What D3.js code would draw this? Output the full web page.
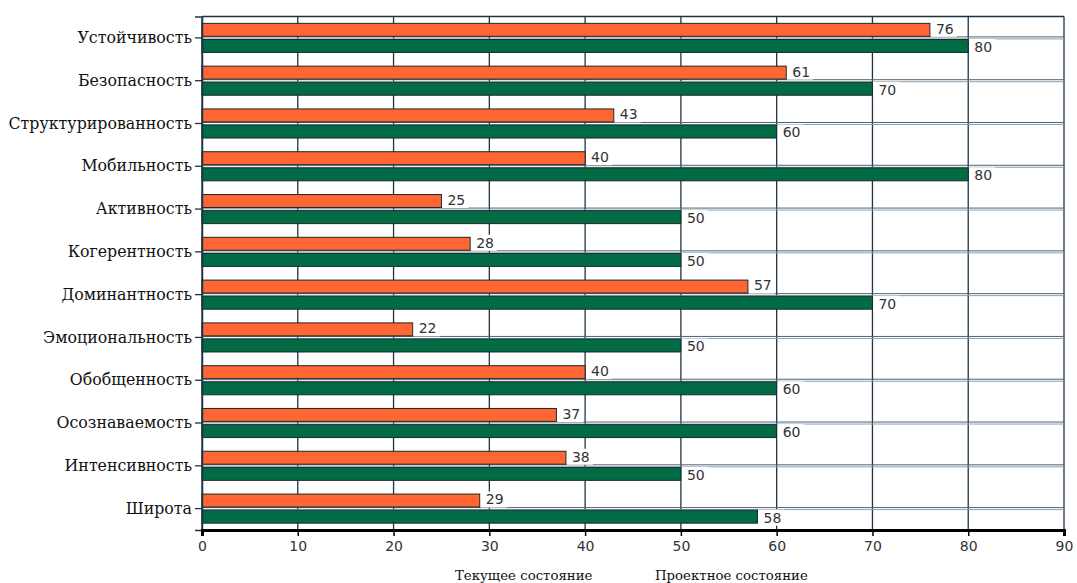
<!DOCTYPE html>
<html>
<head>
<meta charset="utf-8">
<script src="https://cdn.jsdelivr.net/npm/d3@7"></script>
<style>
  body { margin: 0; background: #fff; }
</style>
</head>
<body>
<svg id="vis" width="1077" height="583"></svg>
<script>
// categories, top to bottom
const categories = ["Устойчивость", "Безопасность", "Структурированность", "Мобильность",
  "Активность", "Когерентность", "Доминантность", "Эмоциональность", "Обобщенность",
  "Осознаваемость", "Интенсивность", "Широта"]
const current = [76, 61, 43, 40, 25, 28, 57, 22, 40, 37, 38, 29]
const project = [80, 70, 60, 80, 50, 50, 70, 50, 60, 60, 50, 58]
const seriesNames = ["Текущее состояние", "Проектное состояние"]
const xTicks = [0, 10, 20, 30, 40, 50, 60, 70, 80, 90]

const colors = ["#ff6633", "#006b45"]
const margin = {top: 16.5, right: 13, bottom: 53, left: 202}
const width = 1077 - margin.left - margin.right
const height = 583 - margin.top - margin.bottom

const svg = d3.select("#vis")
const chart = svg.append("g").attr("transform", `translate(${margin.left},${margin.top})`)

const x = d3.scaleLinear().domain([0, 90]).range([0, width])
const y = d3.scaleBand().domain(categories).range([0, height]).paddingInner(0.32).paddingOuter(0.16)
const yInner = d3.scaleBand().domain([0, 1]).range([0, y.bandwidth()]).paddingInner(0.2)

// vertical gridlines
chart.append("g").selectAll("line").data(xTicks).join("line")
  .attr("x1", d => x(d)).attr("x2", d => x(d))
  .attr("y1", 0).attr("y2", height)
  .attr("stroke", "#1d3346").attr("stroke-width", 1.3)

// horizontal gridlines at category centres (double line look)
const cy = d => y(d) + y.bandwidth() / 2
const hg = chart.append("g")
hg.selectAll("line.a").data(categories).join("line").attr("class", "a")
  .attr("x1", 0).attr("x2", width)
  .attr("y1", d => cy(d) - 1).attr("y2", d => cy(d) - 1)
  .attr("stroke", "#4d6478").attr("stroke-width", 1)
hg.selectAll("line.b").data(categories).join("line").attr("class", "b")
  .attr("x1", 0).attr("x2", width)
  .attr("y1", d => cy(d) + 1).attr("y2", d => cy(d) + 1)
  .attr("stroke", "#8d9fb0").attr("stroke-width", 1)

// top frame
chart.append("line").attr("x1", 0).attr("x2", width).attr("y1", 0).attr("y2", 0)
  .attr("stroke", "#1d3346").attr("stroke-width", 1.5)

const series = [current, project]
series.forEach((vals, s) => {
  const g = chart.append("g")
  g.selectAll("rect").data(categories).join("rect")
    .attr("x", 0)
    .attr("y", d => y(d) + yInner(s))
    .attr("width", (d, i) => x(vals[i]))
    .attr("height", yInner.bandwidth())
    .attr("fill", colors[s])
    .attr("stroke", "#1a2a2a").attr("stroke-width", 1)
})

// value labels with white boxes
series.forEach((vals, s) => {
  const g = chart.append("g")
  const lbl = g.selectAll("g").data(categories).join("g")
    .attr("transform", (d, i) => `translate(${x(vals[i]) + 1},${y(d) + yInner(s) + yInner.bandwidth() / 2 + (s ? 1 : -1)})`)
  lbl.append("rect").attr("x", 0).attr("y", -8).attr("width", 26).attr("height", 16).attr("fill", "#fff")
  lbl.append("text").attr("x", 5).attr("dy", "0.35em")
    .attr("font-family", "DejaVu Sans, Verdana, sans-serif").attr("font-size", 14)
    .attr("fill", "#333")
    .text((d, i) => vals[i])
})

// y axis
const yAxis = chart.append("g").call(d3.axisLeft(y).tickSize(7).tickPadding(3))
yAxis.select(".domain").attr("stroke", "#1d3346").attr("stroke-width", 1.5)
yAxis.selectAll(".tick line").attr("stroke", "#1d3346").attr("stroke-width", 1.3)
yAxis.selectAll("text").attr("font-family", "DejaVu Serif, serif")
  .attr("font-size", 15.8).attr("fill", "#111")

// x axis
const xAxis = chart.append("g").attr("transform", `translate(0,${height})`)
  .call(d3.axisBottom(x).tickValues(xTicks).tickSize(6).tickPadding(5))
xAxis.select(".domain").attr("stroke", "#000").attr("stroke-width", 3)
xAxis.selectAll(".tick line").attr("stroke", "#000").attr("stroke-width", 1.5)
xAxis.selectAll("text").attr("font-family", "DejaVu Sans, Verdana, sans-serif")
  .attr("font-size", 14).attr("fill", "#333")

// legend text
const legendX = [455, 655]
svg.append("g").selectAll("text").data(seriesNames).join("text")
  .attr("x", (d, i) => legendX[i]).attr("y", 580)
  .attr("font-family", "DejaVu Serif, serif").attr("font-size", 13.3)
  .attr("fill", "#111")
  .text(d => d)
</script>
</body>
</html>
